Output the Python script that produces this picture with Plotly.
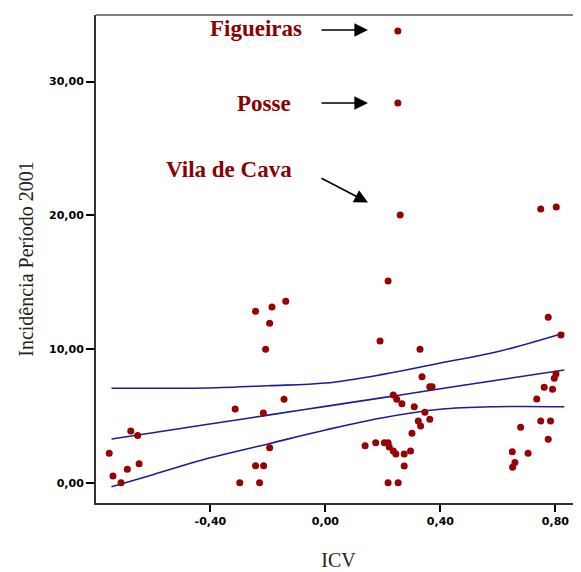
import plotly.graph_objects as go

# ---- data ----
icv = [-0.677, -0.653, -0.752, -0.648, -0.689, -0.739, -0.711,
       -0.138, -0.186, -0.243, -0.194, -0.208, -0.144, -0.314, -0.216, -0.194, -0.243, -0.215, -0.298, -0.229,
       0.252, 0.252, 0.260, 0.218, 0.190, 0.329, 0.336, 0.363, 0.371, 0.236, 0.248, 0.266, 0.309, 0.346,
       0.323, 0.363, 0.331, 0.301, 0.138, 0.175, 0.205, 0.218, 0.222, 0.236, 0.245, 0.274, 0.296, 0.274,
       0.218, 0.253,
       0.749, 0.803, 0.775, 0.819, 0.802, 0.796, 0.761, 0.790, 0.735, 0.749, 0.783, 0.679, 0.775, 0.650,
       0.705, 0.659, 0.651]
incidencia = [3.87, 3.52, 2.20, 1.42, 1.00, 0.50, 0.0,
              13.57, 13.14, 12.82, 11.92, 9.98, 6.24, 5.51, 5.21, 2.62, 1.27, 1.27, 0.0, 0.0,
              33.79, 28.40, 20.02, 15.09, 10.60, 9.98, 7.93, 7.18, 7.18, 6.56, 6.24, 5.91, 5.68, 5.27,
              4.61, 4.74, 4.24, 3.69, 2.77, 2.99, 2.99, 2.99, 2.67, 2.37, 2.15, 2.15, 2.37, 1.25,
              0.0, 0.0,
              20.47, 20.62, 12.37, 11.05, 8.13, 7.81, 7.14, 6.99, 6.26, 4.61, 4.61, 4.14, 3.25, 2.32,
              2.20, 1.50, 1.15]

fit_x = [-0.744, -0.60, -0.408, -0.20, 0.0, 0.20, 0.40, 0.59, 0.831]
fit_mid = [3.27, 3.74, 4.37, 5.05, 5.71, 6.36, 7.02, 7.64, 8.43]
fit_upper = [7.06, 7.06, 7.08, 7.25, 7.45, 8.10, 8.95, 9.75, 11.20]
fit_lower = [-0.30, 0.60, 1.82, 2.90, 3.94, 4.86, 5.49, 5.68, 5.68]

x_ticks = [-0.4, 0.0, 0.4, 0.8]
x_tick_labels = ["-0,40", "0,00", "0,40", "0,80"]
y_ticks = [0, 10, 20, 30]
y_tick_labels = ["0,00", "10,00", "20,00", "30,00"]

labels = ["Figueiras", "Posse", "Vila de Cava"]
label_x = [-0.076, -0.114, -0.108]
label_y = [34.0, 28.33, 23.45]
arrow_tail_x = [-0.019, -0.019, -0.019]
arrow_tail_y = [33.86, 28.40, 22.83]
arrow_head_x = [0.148, 0.148, 0.148]
arrow_head_y = [33.86, 28.40, 20.96]

# ---- figure ----
fig = go.Figure()
line_col = "#1c1c9c"
for ys in (fit_upper, fit_mid, fit_lower):
    fig.add_trace(go.Scatter(x=fit_x, y=ys, mode="lines",
                             line=dict(color=line_col, width=1.6, shape="spline"),
                             hoverinfo="skip", showlegend=False))

fig.add_trace(go.Scatter(x=icv, y=incidencia, mode="markers",
                         marker=dict(color="#990000", size=7, line=dict(width=0)),
                         showlegend=False))

for t, lx, ly in zip(labels, label_x, label_y):
    fig.add_annotation(x=lx, y=ly, text=t, showarrow=False, xanchor="right", yanchor="middle",
                       font=dict(family="Liberation Serif", size=23, color="#8b0000", weight="bold"))
for tx, ty, hx, hy in zip(arrow_tail_x, arrow_tail_y, arrow_head_x, arrow_head_y):
    fig.add_annotation(x=hx, y=hy, ax=tx, ay=ty, axref="x", ayref="y", text="",
                       showarrow=True, arrowhead=2, arrowsize=1.7, arrowwidth=1.6,
                       arrowcolor="black", standoff=0, startstandoff=0)

fig.add_shape(type="line", xref="paper", yref="paper", x0=0, x1=1, y0=1, y1=1,
              line=dict(color="#808080", width=2))

fig.update_layout(
    width=573, height=564,
    margin=dict(l=88, r=0, t=7, b=69),
    paper_bgcolor="white", plot_bgcolor="white",
    showlegend=False,
    xaxis=dict(range=[-0.798, 0.889], tickvals=x_ticks, ticktext=x_tick_labels,
               showgrid=False, zeroline=False, showline=True, linecolor="#333333", linewidth=2,
               ticks="outside", ticklen=7, tickwidth=2, tickcolor="black",
               tickfont=dict(family="DejaVu Sans", size=11, color="black", weight="bold"),
               title=dict(text="ICV", font=dict(family="Liberation Serif", size=20, color="#222222"),
                          standoff=26)),
    yaxis=dict(range=[-1.52, 34.98], tickvals=y_ticks, ticktext=y_tick_labels,
               showgrid=False, zeroline=False, showline=True, linecolor="#333333", linewidth=2,
               ticks="outside", ticklen=8, tickwidth=2, tickcolor="black",
               tickfont=dict(family="DejaVu Sans", size=11, color="black", weight="bold"),
               title=dict(text="Incidência Período 2001",
                          font=dict(family="Liberation Serif", size=20, color="#222222"),
                          standoff=10)),
)

fig.write_html("out.html")
